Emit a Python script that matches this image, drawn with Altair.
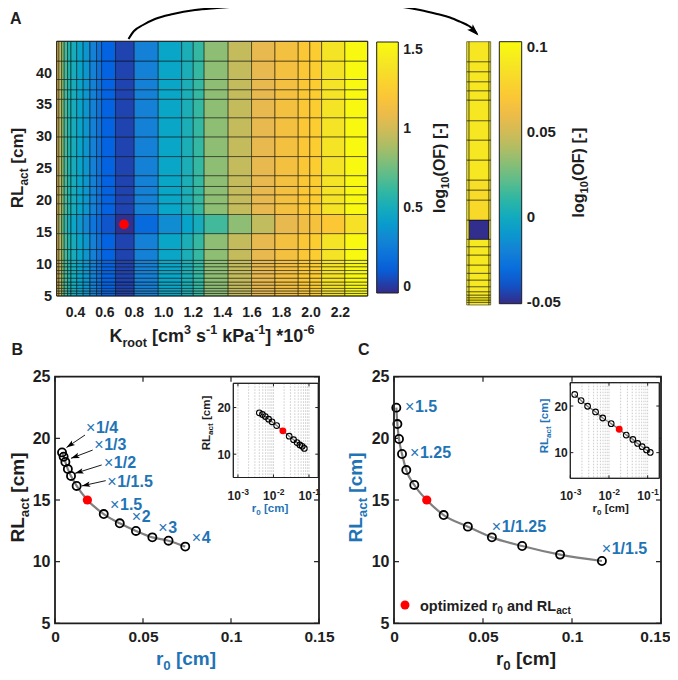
import math
import altair as alt
import pandas as pd

W, H = 662, 668
FONT = "Liberation Sans"
INK = "#1e1e1e"
BLUE = "#1f74b6"
GRAY = "#808080"


def cx(p):
    return p - 8


def cy(p):
    return p - 8


# ---------------- data: panel A (main heat map) ----------------
k_edges = [0.276, 0.291, 0.310, 0.327, 0.350, 0.373, 0.412, 0.456, 0.502, 0.547,
           0.581, 0.676, 0.803, 0.966, 1.125, 1.204, 1.278, 1.441, 1.600, 1.759,
           1.917, 1.996, 2.076, 2.234, 2.389]
rl_edges = [5.0, 5.4, 5.8, 6.2, 6.7, 7.2, 7.8, 8.5, 9.0, 9.6, 10.1, 10.6, 12.3,
            14.8, 17.8, 19.5, 20.9, 22.2, 23.9, 26.9, 30.0, 33.0, 35.9, 37.4,
            39.0, 41.9, 45.0]
of_col = [1.07, 0.93, 0.79, 0.64, 0.55, 0.50, 0.44, 0.37, 0.28, 0.20, 0.12, 0.03,
          0.28, 0.45, 0.52, 0.61, 0.82, 0.96, 1.07, 1.15, 1.22, 1.26, 1.39, 1.53]
of_opt_row = [1.00, 0.88, 0.72, 0.58, 0.50, 0.45, 0.38, 0.30, 0.22, 0.15, 0.08, -0.02,
              0.16, 0.33, 0.44, 0.50, 0.64, 0.82, 0.95, 1.07, 1.13, 1.17, 1.22, 1.38]
opt_row_start = 14.8
k_opt = [0.733]
rl_opt_a = [16.25]

# ---------------- data: panel A (zoomed strip) ----------------
z_x_edges = [0.0, 0.1, 0.93, 1.0]
z_rl_edges = [5.0, 5.41, 5.76, 6.11, 6.52, 7.02, 7.78, 8.8, 9.82, 11.08, 12.6, 13.86,
              14.98, 17.91, 20.95, 22.47, 23.99, 27.03, 30.06, 33.0, 36.14, 37.55,
              38.92, 40.44, 41.96, 45.0]
z_of_mid = [0.091, 0.091, 0.091, 0.091, 0.091, 0.091, 0.091, 0.091, 0.091, 0.091,
            0.091, 0.091, -0.05, 0.082, 0.083, 0.085, 0.09, 0.09, 0.09, 0.09, 0.09,
            0.09, 0.09, 0.09, 0.09]
z_of_side = 0.092

# ---------------- data: panels B and C ----------------
b_r0 = [0.0040, 0.0049, 0.0059, 0.0073, 0.0091, 0.0123, 0.0184, 0.0277, 0.0368,
        0.0460, 0.0553, 0.0645, 0.0740]
b_rl = [18.86, 18.51, 18.08, 17.51, 16.95, 16.14, 15.0, 13.86, 13.11, 12.49, 11.97,
        11.70, 11.22]
c_r0 = [0.0013, 0.0019, 0.0028, 0.0045, 0.0069, 0.0114, 0.0184, 0.0279, 0.0415,
        0.0550, 0.0720, 0.0933, 0.1168]
c_rl = [22.49, 21.16, 19.95, 18.73, 17.43, 16.22, 15.0, 13.78, 12.84, 11.97, 11.27,
        10.57, 10.05]
opt_index = 6

b_lab_text = ["1/4", "1/3", "1/2", "1/1.5", "1.5", "2", "3", "4"]
b_lab_r0 = [0.0176, 0.0223, 0.0278, 0.0297, 0.0313, 0.0436, 0.0587, 0.0777]
b_lab_rl = [20.81, 19.46, 18.0, 16.48, 14.59, 13.62, 12.7, 11.92]
b_arr_from_r0 = [0.01705, 0.02142, 0.02653, 0.02881]
b_arr_from_rl = [20.27, 19.05, 17.84, 16.57]
b_arr_to_r0 = [0.00653, 0.00909, 0.01136, 0.01517]
b_arr_to_rl = [19.26, 18.38, 17.16, 16.14]

c_lab_text = ["1.5", "1.25", "1/1.25", "1/1.5"]
c_lab_r0 = [0.0062, 0.0090, 0.0549, 0.1167]
c_lab_rl = [22.57, 18.79, 12.83, 11.03]

a_x_ticks = [0.4, 0.6, 0.8, 1.0, 1.2, 1.4, 1.6, 1.8, 2.0, 2.2]
a_y_ticks = [5, 10, 15, 20, 25, 30, 35, 40]
bc_x_ticks = [0, 0.05, 0.1, 0.15]
bc_y_ticks = [5, 10, 15, 20, 25]
inset_x_ticks = [0.001, 0.01, 0.1]
inset_x_exp = ["-3", "-2", "-1"]
inset_y_ticks = [10, 20]
inset_grid = [0.001, 0.002, 0.003, 0.004, 0.005, 0.006, 0.007, 0.008, 0.009,
              0.01, 0.02, 0.03, 0.04, 0.05, 0.06, 0.07, 0.08, 0.09, 0.1]

# arrow path of panel A (annotation, page pixels)
arc_x = [128.5, 134, 143, 155, 173, 195, 217, 245, 267, 300, 333, 360, 380, 403,
         420, 437, 450, 460, 469, 475]
arc_y = [39, 31, 25, 19, 14, 10, 8, 6, 5, 4, 3.5, 3.7, 4.2, 7, 10, 14, 17.5, 21.7,
         26, 31]
arc_tip = (478.5, 35.5)

PARULA = ["#352a87", "#0363e1", "#1481d6", "#06a4ca", "#2eb7a4", "#71bf80",
          "#b5bd61", "#e9b94e", "#fec832", "#f5e326", "#f9fb0e"]


def stops(lo, hi):
    return [lo + (hi - lo) * i / (len(PARULA) - 1) for i in range(len(PARULA))]


# ---------------- text helpers ----------------
WID = {' ': 278, '[': 333, ']': 333, '(': 333, ')': 333, '-': 333, '*': 389,
       '.': 278, '/': 278, '\u00d7': 584}
for d in "0123456789":
    WID[d] = 556
WID.update(dict(A=722, B=722, C=722, D=722, E=667, F=611, G=778, H=722, I=278,
                J=556, K=722, L=611, M=833, N=722, O=778, P=667, Q=778, R=722,
                S=667, T=611, U=722, V=667, W=944, X=667, Y=667, Z=611))
WID.update(dict(a=556, b=611, c=556, d=611, e=556, f=333, g=611, h=611, i=278,
                j=278, k=556, l=278, m=889, n=611, o=611, p=611, q=611, r=389,
                s=556, t=333, u=611, v=556, w=778, x=556, y=556, z=500))


def tw(s, f):
    return sum(WID.get(ch, 556) for ch in s) * f / 1000.0


def rich(pieces, F, ax, ay, rotate=False, color=INK, center=True):
    sizes = [F if k == 'n' else 0.7 * F for _, k in pieces]
    total = sum(tw(t, f) for (t, _), f in zip(pieces, sizes))
    pos = -total / 2 if center else 0.0
    recs = []
    for (t, k), f in zip(pieces, sizes):
        lead = len(t) - len(t.lstrip(' '))
        pos += lead * WID[' '] * f / 1000.0
        s = t.strip(' ')
        trail = len(t.lstrip(' ')) - len(s)
        shift = {'n': 0.0, 'sub': 0.27 * F, 'sup': -0.42 * F}[k]
        if s:
            if rotate:
                recs.append(dict(x=ax + shift, y=ay - pos, text=s, size=f, color=color))
            else:
                recs.append(dict(x=ax + pos, y=ay + shift, text=s, size=f, color=color))
        pos += tw(s, f) + trail * WID[' '] * f / 1000.0
    return recs


def text_layer(recs, bold=True, angle=None):
    mk = dict(align="left", baseline="alphabetic", font=FONT,
              fontWeight="bold" if bold else "normal")
    if angle is not None:
        mk["angle"] = angle
    return alt.Chart(pd.DataFrame(recs)).mark_text(**mk).encode(
        x=alt.X("x:Q", scale=None), y=alt.Y("y:Q", scale=None),
        text="text:N", size=alt.Size("size:Q", scale=None),
        color=alt.Color("color:N", scale=None))


def sc(domain, rng, typ="linear"):
    if typ == "log":
        return alt.Scale(type="log", domain=domain, range=rng, nice=False)
    return alt.Scale(type="linear", domain=domain, range=rng, nice=False, zero=False)


ONE = alt.Data(values=[{"a": 1}])


def box(x0, x1, y0, y1, sw=1.5, fill=None):
    props = dict(stroke=INK, strokeWidth=sw)
    if fill:
        props["fill"] = fill
    else:
        props["fillOpacity"] = 0
    return alt.Chart(ONE).mark_rect(**props).encode(
        x=alt.value(cx(x0)), x2=alt.value(cx(x1)), y=alt.value(cy(y0)), y2=alt.value(cy(y1)))


PLAIN = "'' + datum.value"


def xaxis(values, at_y, size, pad, fmt=None, flush_last=None):
    kw = dict(orient="bottom", offset=cy(at_y) - H, values=values,
              title=None, domain=False, ticks=False, grid=False,
              labelFont=FONT, labelFontSize=size, labelFontWeight="bold",
              labelColor=INK, labelPadding=pad, labelFlush=False, labelOverlap=False)
    if fmt:
        kw["format"] = fmt
    else:
        kw["labelExpr"] = PLAIN
    if flush_last is not None:
        test = "datum.value == %s" % flush_last[0]
        kw["labelAlign"] = {"condition": {"test": test, "value": "right"}, "value": "center"}
        kw["labelOffset"] = {"condition": {"test": test, "value": flush_last[1]}, "value": 0}
    return alt.Axis(**kw)


def yaxis(values, at_x, size, pad):
    return alt.Axis(orient="left", offset=-cx(at_x), values=values, labelExpr=PLAIN,
                    title=None, domain=False, ticks=False, grid=False,
                    labelFont=FONT, labelFontSize=size, labelFontWeight="bold",
                    labelColor=INK, labelPadding=pad, labelFlush=False, labelOverlap=False)


def ticks_x(vals, xs, ybot, ytop, L, sw=1.0):
    df = pd.DataFrame({"v": vals})
    out = []
    for y0, d in ((ybot, -L), (ytop, L)):
        out.append(alt.Chart(df).mark_rule(color=INK, strokeWidth=sw).encode(
            x=alt.X("v:Q", scale=xs, axis=None), y=alt.value(cy(y0)), y2=alt.value(cy(y0) + d)))
    return out


def ticks_y(vals, ys, xl, xr, L, sw=1.0):
    df = pd.DataFrame({"v": vals})
    out = []
    for x0, d in ((xl, L), (xr, -L)):
        out.append(alt.Chart(df).mark_rule(color=INK, strokeWidth=sw).encode(
            y=alt.Y("v:Q", scale=ys, axis=None), x=alt.value(cx(x0)), x2=alt.value(cx(x0) + d)))
    return out


def curve_layers(r0, rl, xs, ys, axx, axy, size, red_size, sw, lw):
    df = pd.DataFrame({"r0": r0, "rl": rl,
                       "opt": [i == opt_index for i in range(len(r0))]})
    base = alt.Chart(df)
    line = base.mark_line(color=GRAY, strokeWidth=lw, interpolate="monotone").encode(
        x=alt.X("r0:Q", scale=xs, axis=axx), y=alt.Y("rl:Q", scale=ys, axis=axy))
    circ = base.transform_filter("!datum.opt").mark_point(
        shape="circle", filled=False, color="black", strokeWidth=sw, size=size, opacity=1).encode(
        x=alt.X("r0:Q", scale=xs, axis=None), y=alt.Y("rl:Q", scale=ys, axis=None))
    red = base.transform_filter("datum.opt").mark_circle(color="#ff0000", size=red_size, opacity=1).encode(
        x=alt.X("r0:Q", scale=xs, axis=None), y=alt.Y("rl:Q", scale=ys, axis=None))
    return [line, circ, red]


def mult_labels(texts, r0, rl, xs, ys, F=16):
    df = pd.DataFrame({"r0": r0, "rl": rl, "t": texts})
    base = alt.Chart(df)
    times = base.mark_text(text="\u00d7", align="left", baseline="middle", font=FONT,
                           fontWeight="normal", fontSize=F, color=BLUE).encode(
        x=alt.X("r0:Q", scale=xs, axis=None), y=alt.Y("rl:Q", scale=ys, axis=None))
    nums = base.mark_text(align="left", baseline="middle", font=FONT, fontWeight="bold",
                          fontSize=F, color=BLUE, dx=F * 0.62).encode(
        x=alt.X("r0:Q", scale=xs, axis=None), y=alt.Y("rl:Q", scale=ys, axis=None), text="t:N")
    return [times, nums]


ARROW = "M0,0L0.75,2.3L0,1.8L-0.75,2.3Z"


def inset_layers(r0, rl, xs, ys, x0, x1, y0, y1):
    out = [box(x0, x1, y0, y1, sw=1.0, fill="white")]
    lo, hi = xs.domain[0], xs.domain[1]
    g = pd.DataFrame({"v": [v for v in inset_grid if lo <= v <= hi]})
    out.append(alt.Chart(g).mark_rule(color="#a8a8a8", strokeWidth=0.6, strokeDash=[1.5, 1.5]).encode(
        x=alt.X("v:Q", scale=xs, axis=None), y=alt.value(cy(y0)), y2=alt.value(cy(y1))))
    out += curve_layers(r0, rl, xs, ys, None, yaxis(inset_y_ticks, x0, 12, 3),
                        32, 48, 1.1, 1.4)
    out += ticks_x(inset_x_ticks, xs, y1, y0, 3)
    out += ticks_y(inset_y_ticks, ys, x0, x1, 3)
    lab = pd.DataFrame({"v": inset_x_ticks, "e": inset_x_exp})
    out.append(alt.Chart(lab).mark_text(text="10", align="right", baseline="alphabetic", font=FONT,
                                        fontWeight="bold", fontSize=12, color=INK, dx=3).encode(
        x=alt.X("v:Q", scale=xs, axis=None), y=alt.value(cy(500))))
    out.append(alt.Chart(lab).mark_text(align="left", baseline="alphabetic", font=FONT,
                                        fontWeight="bold", fontSize=8.5, color=INK, dx=3.5).encode(
        x=alt.X("v:Q", scale=xs, axis=None), y=alt.value(cy(494.5)), text="e:N"))
    out.append(box(x0, x1, y0, y1, sw=1.0))
    return out


layers = []

# ================= Panel A =================
A_xs = sc([k_edges[0], k_edges[-1]], [cx(56.7), cx(367.7)])
A_ys = sc([rl_edges[0], rl_edges[-1]], [cy(296), cy(41.3)])
cells = []
for j in range(len(rl_edges) - 1):
    vals = of_opt_row if rl_edges[j] == opt_row_start else of_col
    for i in range(len(k_edges) - 1):
        cells.append(dict(k0=k_edges[i], k1=k_edges[i + 1], r0=rl_edges[j],
                          r1=rl_edges[j + 1], of=vals[i]))
leg1 = alt.Legend(orient="none", legendX=cx(376.7), legendY=cy(42), direction="vertical",
                  gradientLength=251, gradientThickness=21.6, title=None,
                  values=[0, 0.5, 1, 1.5], labelExpr=PLAIN, labelFont=FONT, labelFontSize=14,
                  labelFontWeight="bold", labelColor=INK, labelOffset=5, padding=0,
                  gradientStrokeColor=INK, gradientStrokeWidth=1)
layers.append(alt.Chart(pd.DataFrame(cells)).mark_rect(
    stroke="black", strokeWidth=0.7, strokeOpacity=0.7).encode(
    x=alt.X("k0:Q", scale=A_xs, axis=xaxis(a_x_ticks, 296, 14, 9, ".1f")), x2="k1:Q",
    y=alt.Y("r0:Q", scale=A_ys, axis=yaxis(a_y_ticks, 56.7, 14.5, 5)), y2="r1:Q",
    color=alt.Color("of:Q", scale=alt.Scale(domain=stops(-0.04, 1.55), range=PARULA,
                                            interpolate="rgb"), legend=leg1)))
layers.append(box(56.7, 367.7, 41.3, 296, sw=1.0))
layers.append(alt.Chart(pd.DataFrame({"k": k_opt, "r": rl_opt_a})).mark_circle(
    color="#ff0000", size=95, opacity=1).encode(
    x=alt.X("k:Q", scale=A_xs, axis=None), y=alt.Y("r:Q", scale=A_ys, axis=None)))

# curved arrow
arc = pd.DataFrame({"x": [cx(v) for v in arc_x] + [cx(arc_tip[0]) - 1.5],
                    "y": [cy(v) for v in arc_y] + [cy(arc_tip[1]) - 1.5]})
layers.append(alt.Chart(arc).mark_line(color="black", strokeWidth=2, interpolate="monotone").encode(
    x=alt.X("x:Q", scale=None), y=alt.Y("y:Q", scale=None)))
ang = math.degrees(math.atan2(arc_tip[0] - arc_x[-2], -(arc_tip[1] - arc_y[-2]))) % 360
layers.append(alt.Chart(pd.DataFrame({"x": [cx(arc_tip[0])], "y": [cy(arc_tip[1])], "a": [ang]})).mark_point(
    shape=ARROW, filled=True, color="black", size=110, opacity=1).encode(
    x=alt.X("x:Q", scale=None), y=alt.Y("y:Q", scale=None), angle=alt.Angle("a:Q", scale=None)))

# zoomed strip
Z_xs = sc([0, 1], [cx(466.7), cx(490.7)])
Z_ys = sc([z_rl_edges[0], z_rl_edges[-1]], [cy(305), cy(41.7)])
zcells = []
for j in range(len(z_rl_edges) - 1):
    for i in range(len(z_x_edges) - 1):
        zcells.append(dict(x0=z_x_edges[i], x1=z_x_edges[i + 1], r0=z_rl_edges[j],
                           r1=z_rl_edges[j + 1], of=z_of_mid[j] if i == 1 else z_of_side))
leg2 = alt.Legend(orient="none", legendX=cx(499.3), legendY=cy(41.7), direction="vertical",
                  gradientLength=262, gradientThickness=22.4, title=None,
                  values=[-0.05, 0, 0.05, 0.1], labelExpr=PLAIN,
                  labelFont=FONT, labelFontSize=15, labelFontWeight="bold", labelColor=INK,
                  labelOffset=5, padding=0, gradientStrokeColor=INK, gradientStrokeWidth=1)
layers.append(alt.Chart(pd.DataFrame(zcells)).mark_rect(
    stroke="black", strokeWidth=0.7, strokeOpacity=0.7).encode(
    x=alt.X("x0:Q", scale=Z_xs, axis=None), x2="x1:Q",
    y=alt.Y("r0:Q", scale=Z_ys, axis=None), y2="r1:Q",
    color=alt.Color("of:Q", scale=alt.Scale(domain=stops(-0.051, 0.103), range=PARULA,
                                            interpolate="rgb"), legend=leg2)))

# ================= Panel B =================
B_xs = sc([0, 0.15], [cx(55), cx(319)])
B_ys = sc([5, 25], [cy(623.3), cy(376.7)])
layers += ticks_x(bc_x_ticks, B_xs, 623.3, 376.7, 5, 1.2)
layers += ticks_y(bc_y_ticks, B_ys, 55, 319, 5, 1.2)
layers += curve_layers(b_r0, b_rl, B_xs, B_ys, xaxis(bc_x_ticks, 623.3, 15.5, 6),
                       yaxis(bc_y_ticks, 55, 16, 5), 66, 85, 1.8, 2.2)
layers += mult_labels(b_lab_text, b_lab_r0, b_lab_rl, B_xs, B_ys)


def bpx(v):
    return cx(55) + v / 0.15 * (319 - 55)


def bpy(v):
    return cy(623.3) - (v - 5) / 20 * (623.3 - 376.7)


arr = pd.DataFrame({"fx": b_arr_from_r0, "fy": b_arr_from_rl, "tx": b_arr_to_r0, "ty": b_arr_to_rl})
arr["a"] = [math.degrees(math.atan2(bpx(t) - bpx(f), -(bpy(u) - bpy(g)))) % 360
            for f, g, t, u in zip(b_arr_from_r0, b_arr_from_rl, b_arr_to_r0, b_arr_to_rl)]
layers.append(alt.Chart(arr).mark_rule(color="black", strokeWidth=0.9).encode(
    x=alt.X("fx:Q", scale=B_xs, axis=None), y=alt.Y("fy:Q", scale=B_ys, axis=None),
    x2="tx:Q", y2="ty:Q"))
layers.append(alt.Chart(arr).mark_point(shape=ARROW, filled=True, color="black", size=55, opacity=1).encode(
    x=alt.X("tx:Q", scale=B_xs, axis=None), y=alt.Y("ty:Q", scale=B_ys, axis=None),
    angle=alt.Angle("a:Q", scale=None)))

BI_xs = sc([0.00074, 0.183], [cx(233.3), cx(318.3)], "log")
BI_ys = sc([5, 25.2], [cy(477.5), cy(383.3)])
layers += inset_layers(b_r0, b_rl, BI_xs, BI_ys, 233.3, 318.3, 383.3, 477.5)
layers.append(box(55, 319, 376.7, 623.3, sw=1.8))

# ================= Panel C =================
C_xs = sc([0, 0.15], [cx(394), cx(661)])
C_ys = sc([5, 25], [cy(623.3), cy(376.7)])
layers += ticks_x(bc_x_ticks, C_xs, 623.3, 376.7, 5, 1.2)
layers += ticks_y(bc_y_ticks, C_ys, 394, 661, 5, 1.2)
layers += curve_layers(c_r0, c_rl, C_xs, C_ys,
                       xaxis(bc_x_ticks, 623.3, 15.5, 6, flush_last=(0.15, 9)),
                       yaxis(bc_y_ticks, 394, 16, 5), 66, 85, 1.8, 2.2)
layers += mult_labels(c_lab_text, c_lab_r0, c_lab_rl, C_xs, C_ys)
CI_xs = sc([0.001, 0.2], [cx(570.3), cx(659.3)], "log")
CI_ys = sc([4.5, 25], [cy(478.3), cy(382.7)])
layers += inset_layers(c_r0, c_rl, CI_xs, CI_ys, 570.3, 659.3, 382.7, 478.3)
layers.append(box(394, 661, 376.7, 623.3, sw=1.8))
# legend of C
layers.append(alt.Chart(ONE).mark_circle(color="#ff0000", size=80, opacity=1).encode(
    x=alt.value(cx(405)), y=alt.value(cy(605))))

# ================= titles =================
hb = []
rb = []
hb += rich([("A", 'n')], 16, cx(10), cy(23.5), center=False)
hb += rich([("B", 'n')], 16, cx(11.5), cy(354.5), center=False)
hb += rich([("C", 'n')], 16, cx(358), cy(354.5), center=False)
rb += rich([("RL", 'n'), ("act", 'sub'), (" [cm]", 'n')], 17, cx(23), cy(168), rotate=True)
hb += rich([("K", 'n'), ("root", 'sub'), (" [cm", 'n'), ("3", 'sup'), (" s", 'n'), ("-1", 'sup'),
            (" kPa", 'n'), ("-1", 'sup'), ("] *10", 'n'), ("-6", 'sup')], 18, cx(212), cy(342))
rb += rich([("log", 'n'), ("10", 'sub'), ("(OF) [-]", 'n')], 16, cx(445), cy(168), rotate=True)
rb += rich([("log", 'n'), ("10", 'sub'), ("(OF) [-]", 'n')], 16, cx(584), cy(172.5), rotate=True)
rb += rich([("RL", 'n'), ("act", 'sub'), (" [cm]", 'n')], 19, cx(24), cy(497.5), rotate=True)
hb += rich([("r", 'n'), ("0", 'sub'), (" [cm]", 'n')], 19, cx(186), cy(665), color=BLUE)
rb += rich([("RL", 'n'), ("act", 'sub'), (" [cm]", 'n')], 19, cx(362), cy(497.5), rotate=True, color=BLUE)
hb += rich([("r", 'n'), ("0", 'sub'), (" [cm]", 'n')], 19, cx(526), cy(665))
rb += rich([("RL", 'n'), ("act", 'sub'), (" [cm]", 'n')], 11.5, cx(210), cy(423), rotate=True)
hb += rich([("r", 'n'), ("0", 'sub'), (" [cm]", 'n')], 11.5, cx(270), cy(512), color=BLUE)
rb += rich([("RL", 'n'), ("act", 'sub'), (" [cm]", 'n')], 11.5, cx(548), cy(426), rotate=True, color=BLUE)
hb += rich([("r", 'n'), ("0", 'sub'), (" [cm]", 'n')], 11.5, cx(610.7), cy(512))
hb += rich([("optimized r", 'n'), ("0", 'sub'), (" and RL", 'n'), ("act", 'sub')], 14.5,
           cx(420), cy(610.5), center=False)
layers.append(text_layer(hb))
layers.append(text_layer(rb, angle=270))

chart = alt.layer(*layers).resolve_scale(
    x="independent", y="independent", color="independent"
).properties(
    width=W, height=H, padding=0, background="white",
    autosize=alt.AutoSizeParams(type="none")
).configure_view(strokeWidth=0)

chart.save("out.html", embed_options={"renderer": "svg", "actions": False})
